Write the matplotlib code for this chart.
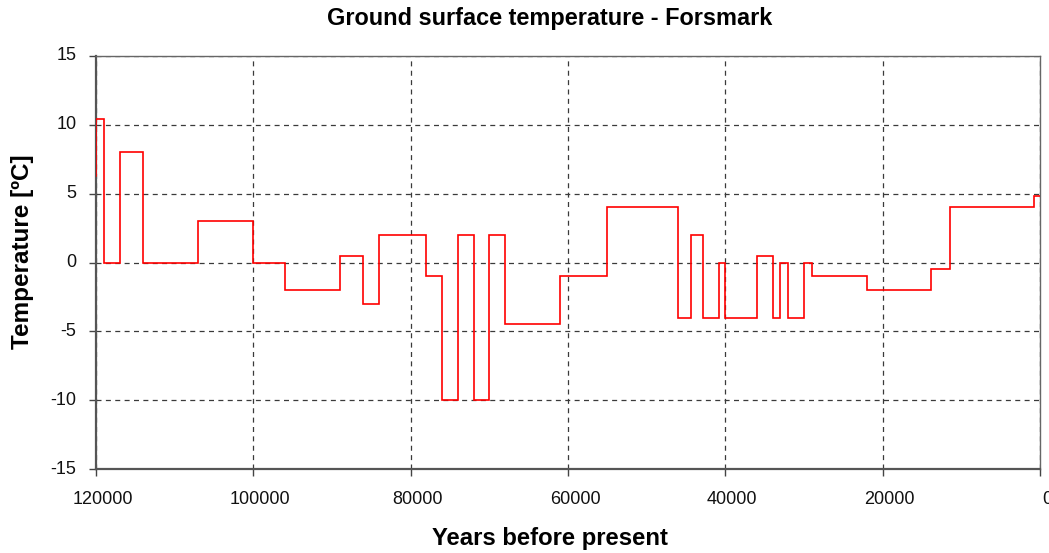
import matplotlib
matplotlib.use("Agg")
import matplotlib.pyplot as plt
from matplotlib.transforms import ScaledTranslation

plt.rcParams["font.family"] = ["Liberation Sans", "DejaVu Sans"]

# Start of each constant-temperature period (years before present) and its temperature
years = [120000, 120000, 119000, 117000, 114000, 107000, 100000, 96000, 89000,
         86000, 84000, 78000, 76000, 74000, 72000, 70000, 68000, 61000, 55000,
         46000, 44400, 42800, 40800, 40000, 36000, 34000, 33000, 32000, 30000,
         29000, 22000, 13800, 11400, 800, 0]
temps = [6.25, 10.4, 0, 8, 0, 3, 0, -2, 0.5,
         -3, 2, -1, -10, 2, -10, 2, -4.5, -1, 4,
         -4, 2, -4, 0, -4, 0.5, -4, 0, -4, 0,
         -1, -2, -0.5, 4, 4.8, 4.8]

x_ticks = [120000, 100000, 80000, 60000, 40000, 20000, 0]
y_ticks = [15, 10, 5, 0, -5, -10, -15]

W, H = 1049, 553
fig = plt.figure(figsize=(W / 100, H / 100), dpi=100)
ax = fig.add_axes([96 / W, (H - 469) / H, (1040 - 96) / W, (469 - 56) / H])

ax.plot(years, temps, drawstyle="steps-post", color="#ff0000", lw=1.2,
        zorder=3, solid_joinstyle="miter")

ax.set_xlim(120000, 0)
ax.set_ylim(-15, 15)
ax.set_xticks(x_ticks)
ax.set_yticks(y_ticks)
ax.set_xticklabels([str(v) for v in x_ticks])
ax.set_yticklabels([str(v) for v in y_ticks])

ax.grid(True, color="#3a3a3a", lw=0.9, linestyle=(0, (4, 3.5)), zorder=1)
ax.set_axisbelow(True)

for side in ("top", "right"):
    ax.spines[side].set_color("#666666")
    ax.spines[side].set_linewidth(1.0)
for side in ("left", "bottom"):
    ax.spines[side].set_color("#555555")
    ax.spines[side].set_linewidth(1.6)

ax.tick_params(axis="both", direction="out", length=5, width=1,
               color="#444444", labelsize=13, labelcolor="#111111")
ax.tick_params(axis="x", pad=11)
ax.tick_params(axis="y", pad=9)

# Shift x tick labels slightly to the right
shift = ScaledTranslation(7 / 100, 0, fig.dpi_scale_trans)
for lbl in ax.get_xticklabels():
    lbl.set_transform(lbl.get_transform() + shift)
shift_y = ScaledTranslation(0, 2 / 100, fig.dpi_scale_trans)
for lbl in ax.get_yticklabels():
    lbl.set_transform(lbl.get_transform() + shift_y)

fig.text(550 / W, 1 - 19 / H, "Ground surface temperature - Forsmark",
         ha="center", va="center", fontsize=16.9, fontweight="bold")
fig.text(549.5 / W, 1 - 538 / H, "Years before present",
         ha="center", va="center", fontsize=17.2, fontweight="bold")
fig.text(22.5 / W, 1 - 251.5 / H, "Temperature [ºC]", rotation=90,
         ha="center", va="center", fontsize=17.5, fontweight="bold")

fig.savefig("out.png", dpi=100)
